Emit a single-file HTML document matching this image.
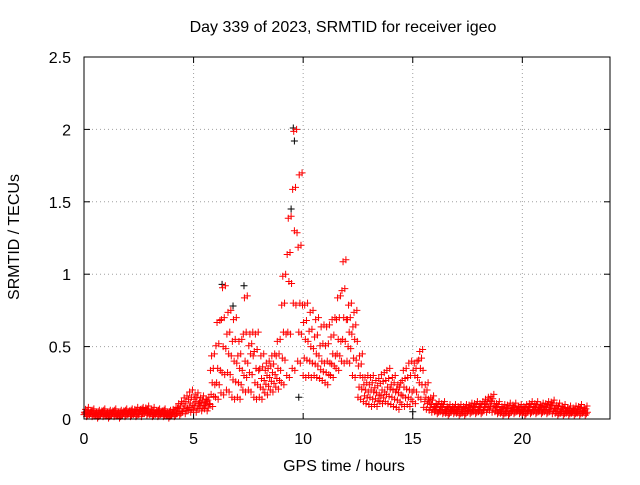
<!DOCTYPE html>
<html><head><meta charset="utf-8"><style>
body{margin:0;background:#fff}
svg{font-family:"Liberation Sans",sans-serif;font-size:16px}
</style></head><body>
<svg id="chart" width="640" height="480">
<rect width="640" height="480" fill="#fff"/>
<text x="343" y="32" text-anchor="middle">Day 339 of 2023, SRMTID for receiver igeo</text>
<g id="grid"></g>
<g id="ticks"></g>
<g id="black"></g>
<g id="red"></g>
<rect x="84" y="57" width="526" height="362" fill="none" stroke="#000"/>
<text x="344" y="471" text-anchor="middle">GPS time / hours</text>
<text transform="translate(19,237) rotate(-90)" text-anchor="middle">SRMTID / TECUs</text>
</svg>
<script>
const xTicks=[0,5,10,15,20];
const yTicks=[0,0.5,1,1.5,2,2.5];
const yTickLabels=["0","0.5","1","1.5","2","2.5"];
const times=[0,0.25,0.5,0.75,1,1.25,1.5,1.75,2,2.25,2.5,2.75,3,3.25,3.5,3.75,4,4.25,4.5,4.75,5,5.25,5.5,5.75,6,6.25,6.5,6.75,7,7.25,7.5,7.75,8,8.25,8.5,8.75,9,9.25,9.5,9.75,10,10.25,10.5,10.75,11,11.25,11.5,11.75,12,12.25,12.5,12.75,13,13.25,13.5,13.75,14,14.25,14.5,14.75,15,15.25,15.5,15.75,16,16.25,16.5,16.75,17,17.25,17.5,17.75,18,18.25,18.5,18.75,19,19.25,19.5,19.75,20,20.25,20.5,20.75,21,21.25,21.5,21.75,22,22.25,22.5,22.75];
const lowVals=[.03,.03,.02,.03,.02,.03,.02,.03,.03,.03,.03,.04,.03,.03,.03,.02,.03,.04,.05,.06,.06,.07,.07,.10,.15,.18,.20,.15,.15,.20,.20,.15,.15,.18,.20,.22,.25,.30,.35,.40,.30,.30,.30,.28,.25,.30,.35,.40,.40,.30,.15,.12,.10,.10,.12,.12,.10,.08,.10,.10,.12,.15,.08,.06,.05,.05,.04,.05,.04,.04,.05,.05,.05,.06,.06,.05,.04,.04,.05,.05,.04,.05,.05,.05,.05,.05,.04,.04,.04,.04,.04,.04];
const q1Vals=[.04,.04,.03,.04,.03,.04,.03,.04,.04,.04,.05,.05,.04,.04,.04,.03,.04,.05,.07,.08,.09,.09,.09,.17,.25,.32,.32,.27,.25,.30,.32,.25,.22,.24,.26,.28,.42,.60,.80,.60,.42,.40,.38,.34,.32,.38,.45,.55,.50,.42,.22,.16,.15,.14,.16,.17,.15,.13,.16,.15,.20,.25,.12,.08,.06,.06,.05,.06,.05,.05,.06,.06,.06,.08,.09,.06,.05,.05,.06,.06,.05,.06,.06,.06,.06,.07,.05,.05,.05,.05,.05,.05];
const midVals=[.05,.05,.04,.05,.04,.05,.04,.05,.05,.05,.06,.06,.05,.05,.05,.04,.05,.07,.09,.11,.12,.11,.12,.25,.35,.50,.45,.40,.35,.40,.45,.35,.28,.30,.32,.35,.60,.95,1.3,.80,.55,.50,.45,.40,.40,.45,.55,.70,.60,.55,.30,.20,.20,.18,.20,.22,.20,.18,.22,.20,.30,.35,.15,.10,.08,.08,.07,.07,.07,.07,.08,.08,.08,.10,.12,.08,.07,.07,.08,.07,.07,.08,.08,.08,.08,.09,.07,.07,.06,.06,.07,.06];
const q3Vals=[.06,.06,.05,.06,.05,.06,.05,.06,.06,.06,.07,.07,.06,.06,.06,.05,.06,.09,.12,.15,.15,.13,.13,.35,.52,.70,.60,.55,.45,.60,.52,.48,.36,.35,.38,.45,.80,1.15,1.6,1.2,.68,.62,.58,.52,.52,.58,.70,.90,.70,.65,.38,.25,.25,.23,.26,.28,.25,.22,.28,.30,.35,.42,.20,.13,.10,.10,.08,.08,.08,.08,.09,.10,.10,.12,.14,.10,.08,.09,.09,.08,.08,.10,.10,.09,.10,.11,.09,.08,.07,.07,.08,.07];
const highVals=[.08,.07,.06,.07,.06,.07,.06,.07,.07,.08,.08,.09,.08,.07,.07,.06,.08,.12,.16,.20,.18,.16,.15,.45,.68,.92,.75,.70,.55,.85,.60,.60,.45,.40,.45,.55,1.0,1.4,2.0,1.7,.80,.75,.70,.65,.65,.70,.85,1.1,.80,.75,.45,.30,.30,.28,.32,.35,.30,.25,.35,.40,.40,.48,.25,.16,.12,.12,.10,.10,.10,.10,.11,.12,.12,.15,.17,.12,.10,.11,.11,.10,.10,.12,.12,.11,.12,.13,.11,.10,.09,.09,.10,.09];
const blackT=[9.55,9.6,6.8,7.3,9.8,15.0,9.45,6.3];
const blackV=[2.01,1.92,0.78,0.92,0.15,0.05,1.45,0.93];
const X0=84,X1=610,Y0=419,Y1=57;
function xs(t){return X0+t/24*(X1-X0);}
function ys(v){return Y0-v/2.5*(Y0-Y1);}
const NS="http://www.w3.org/2000/svg";
const grid=document.getElementById('grid'),ticks=document.getElementById('ticks');
function line(g,x1,y1,x2,y2,st,dash){const l=document.createElementNS(NS,'line');l.setAttribute('x1',x1);l.setAttribute('y1',y1);l.setAttribute('x2',x2);l.setAttribute('y2',y2);l.setAttribute('stroke',st);if(dash)l.setAttribute('stroke-dasharray',dash);g.appendChild(l);return l;}
xTicks.forEach(t=>{const x=xs(t);
 if(t>0){const gl=line(grid,x,Y1,x,Y0,'#a0a0a0','1,3');}
 line(ticks,x,Y0,x,Y0-6,'#000');line(ticks,x,Y1,x,Y1+6,'#000');
 const tx=document.createElementNS(NS,'text');tx.setAttribute('x',x);tx.setAttribute('y',Y0+25);tx.setAttribute('text-anchor','middle');tx.textContent=t;
 
 
 ticks.appendChild(tx);});
yTicks.forEach((v,i)=>{const y=ys(v);
 if(v>0&&v<2.5){const gl=line(grid,X0,y,X1,y,'#a0a0a0','1,3');}
 line(ticks,X0,y,X0+6,y,'#000');line(ticks,X1,y,X1-6,y,'#000');
 const tx=document.createElementNS(NS,'text');tx.setAttribute('x',X0-13);tx.setAttribute('y',y+6);tx.setAttribute('text-anchor','end');tx.textContent=yTickLabels[i];
 
 
 ticks.appendChild(tx);});
function plus(g,x,y,c,name){const p=document.createElementNS(NS,'path');p.setAttribute('d',`M${x-3.5},${y}h7M${x},${y-3.5}v7`);p.setAttribute('stroke',c);p.setAttribute('fill','none');
 
 
 g.appendChild(p);}
const bg=document.getElementById('black'),rg=document.getElementById('red');
blackT.forEach((t,i)=>plus(bg,xs(t),ys(blackV[i]),'#000','black-point'));
const offs=[0,0.05,0.1,0.15,0.2];
[lowVals,q1Vals,midVals,q3Vals,highVals].forEach((arr,k)=>{times.forEach((t,i)=>{
 plus(rg,xs(t+offs[k]),ys(arr[i]),'#f00','red-point');
 plus(rg,xs(t+offs[(k+2)%5]+0.02),ys(arr[i])+2,'#f00','red-point');
});});
</script>
</body></html>
